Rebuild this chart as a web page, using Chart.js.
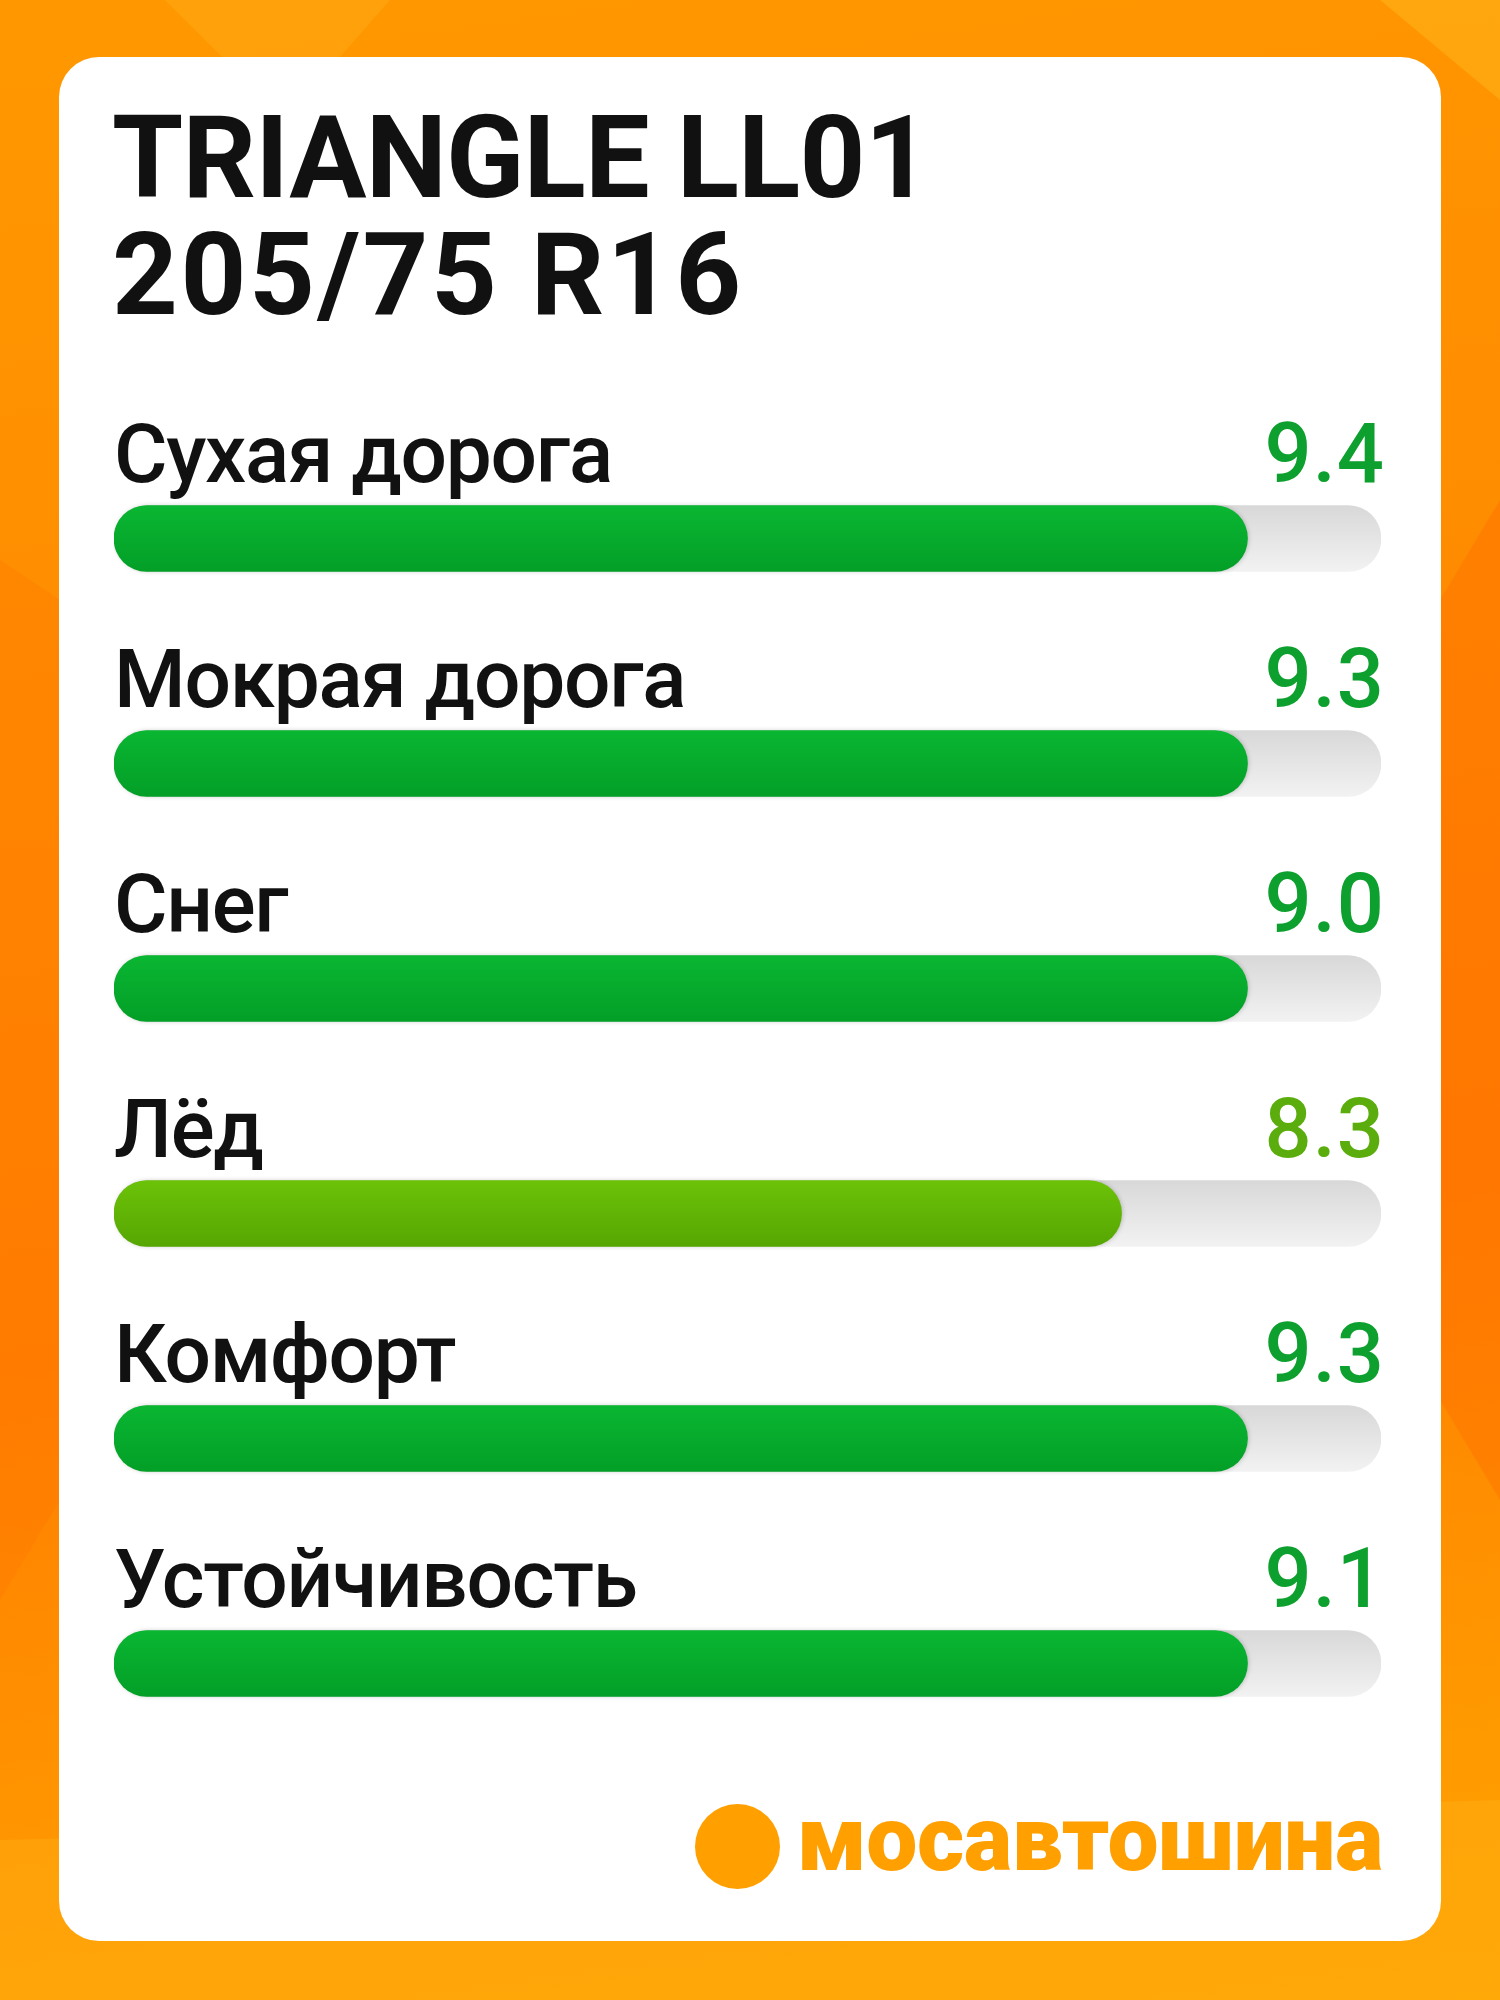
<!DOCTYPE html>
<html lang="ru">
<head>
<meta charset="utf-8">
<title>TRIANGLE LL01 205/75 R16</title>
<script src="https://cdn.jsdelivr.net/npm/chart.js@4.4.1/dist/chart.umd.min.js"></script>
<style>
    html, body {
        margin: 0;
        padding: 0;
    }
    body {
        width: 1500px;
        height: 2000px;
        position: relative;
        overflow: hidden;
        background: linear-gradient(172deg, #ff9800 0%, #ff8c00 35%, #ff7f00 62%, #ff9a00 88%, #ffa200 100%);
        font-family: Roboto, "DejaVu Sans", sans-serif;
    }
    .facet {
        position: absolute;
        inset: 0;
    }
    .facet.a { background: rgba(255, 190, 40, 0.25); clip-path: polygon(11% 0, 26% 0, 19% 6%); }
    .facet.b { background: rgba(255, 200, 40, 0.35); clip-path: polygon(92% 0, 100% 0, 100% 5%); }
    .facet.c { background: rgba(255, 110, 0, 0.25); clip-path: polygon(0 28%, 4% 30%, 4% 75%, 0 80%); }
    .facet.d { background: rgba(255, 100, 0, 0.3); clip-path: polygon(96% 30%, 100% 25%, 100% 75%, 96% 70%); }
    .facet.e { background: rgba(255, 185, 30, 0.3); clip-path: polygon(0 92%, 100% 90%, 100% 100%, 0 100%); }
    .card {
        position: absolute;
        left: 59px;
        top: 57px;
        width: 1382px;
        height: 1884px;
        background: #ffffff;
        border-radius: 40px;
    }
    .title {
        position: absolute;
        left: 112px;
        font-weight: 700;
        font-size: 115px;
        line-height: 115px;
        color: #111111;
        white-space: nowrap;
    }
    #chartWrap {
        position: absolute;
        left: 0;
        top: 0;
        width: 1500px;
        height: 2000px;
    }
    .logo-dot {
        position: absolute;
        left: 695px;
        top: 1804px;
        width: 85px;
        height: 85px;
        border-radius: 50%;
        background: #ff9f00;
    }
    .logo-text {
        position: absolute;
        left: 797px;
        top: 1794px;
        font-weight: 900;
        font-size: 91px;
        line-height: 91px;
        color: #ff9f00;
        letter-spacing: -0.5px;
        white-space: nowrap;
    }
</style>
</head>
<body>
<div class="facet a"></div>
<div class="facet b"></div>
<div class="facet c"></div>
<div class="facet d"></div>
<div class="facet e"></div>
<div class="card"></div>
<div class="title" style="top: 100px; letter-spacing: -0.8px;">TRIANGLE LL01</div>
<div class="title" style="top: 217px; letter-spacing: 2.5px;">205/75 R16</div>
<div id="chartWrap"><canvas id="ratingChart" width="1500" height="2000"></canvas></div>
<div class="logo-dot"></div>
<div class="logo-text">мосавтошина</div>

<script>
// rating rows, top to bottom
const categories = ['Сухая дорога', 'Мокрая дорога', 'Снег', 'Лёд', 'Комфорт', 'Устойчивость'];
// scores printed on the right
const scores = [9.4, 9.3, 9.0, 8.3, 9.3, 9.1];
// how far each green bar is filled (out of 10)
const barFill = [9, 9, 9, 8, 9, 9];
// the grey track runs a hair past 10
const axisMax = 10.06;

const BAR_H = 66;

function levelColors(level) {
    // 9+ is the deep green, lower levels get the yellow-green
    if (level >= 9) return { top: '#0ab632', bottom: '#039f27', text: '#0ea02e' };
    return { top: '#6cc208', bottom: '#56a602', text: '#5aad0c' };
}

function barGradient(context, top, bottom) {
    const chart = context.chart;
    if (!chart.chartArea) return bottom;
    const yc = chart.scales.y.getPixelForValue(context.dataIndex);
    const g = chart.ctx.createLinearGradient(0, yc - BAR_H / 2, 0, yc + BAR_H / 2);
    g.addColorStop(0, top);
    g.addColorStop(1, bottom);
    return g;
}

// labels above the bars + score on the right
const rowLabels = {
    id: 'rowLabels',
    afterDatasetsDraw(chart) {
        const ctx = chart.ctx;
        const yScale = chart.scales.y;
        ctx.save();
        ctx.textBaseline = 'alphabetic';
        categories.forEach((name, i) => {
            const baseY = yScale.getPixelForValue(i) - BAR_H / 2 - 24;
            ctx.font = '500 82px Roboto';
            ctx.letterSpacing = '-1.3px';
            ctx.fillStyle = '#111111';
            ctx.textAlign = 'left';
            ctx.fillText(name, 114, baseY);

            ctx.font = '500 83px Roboto';
            ctx.letterSpacing = '1px';
            ctx.fillStyle = levelColors(barFill[i]).text;
            ctx.textAlign = 'right';
            ctx.fillText(scores[i].toFixed(1), 1385, baseY);
        });
        ctx.restore();
    }
};

// soft shadow under the green bar ends
const fillShadow = {
    id: 'fillShadow',
    beforeDatasetDraw(chart, args) {
        if (args.index !== 0) return;
        const ctx = chart.ctx;
        ctx.save();
        ctx.shadowColor = 'rgba(0, 0, 0, 0.18)';
        ctx.shadowBlur = 4;
        ctx.shadowOffsetX = 1;
    },
    afterDatasetDraw(chart, args) {
        if (args.index !== 0) return;
        chart.ctx.restore();
    }
};

const ctx = document.getElementById('ratingChart').getContext('2d');
new Chart(ctx, {
    type: 'bar',
    data: {
        labels: categories,
        datasets: [
            {
                label: 'Оценка',
                data: barFill,
                order: 0,
                grouped: false,
                barThickness: BAR_H,
                borderRadius: BAR_H / 2,
                borderSkipped: false,
                backgroundColor: c => {
                    const col = levelColors(barFill[c.dataIndex]);
                    return barGradient(c, col.top, col.bottom);
                }
            },
            {
                label: 'Шкала',
                data: categories.map(() => axisMax),
                order: 1,
                grouped: false,
                barThickness: BAR_H,
                borderRadius: BAR_H / 2,
                borderSkipped: false,
                backgroundColor: c => barGradient(c, '#d8d8d8', '#f2f2f2')
            }
        ]
    },
    options: {
        indexAxis: 'y',
        responsive: false,
        devicePixelRatio: 1,
        animation: false,
        layout: {
            padding: { left: 114, right: 119, top: 426, bottom: 224 }
        },
        scales: {
            x: { display: false, min: 0, max: axisMax },
            y: { display: false }
        },
        plugins: {
            legend: { display: false },
            tooltip: { enabled: false }
        }
    },
    plugins: [fillShadow, rowLabels]
});
</script>
</body>
</html>
